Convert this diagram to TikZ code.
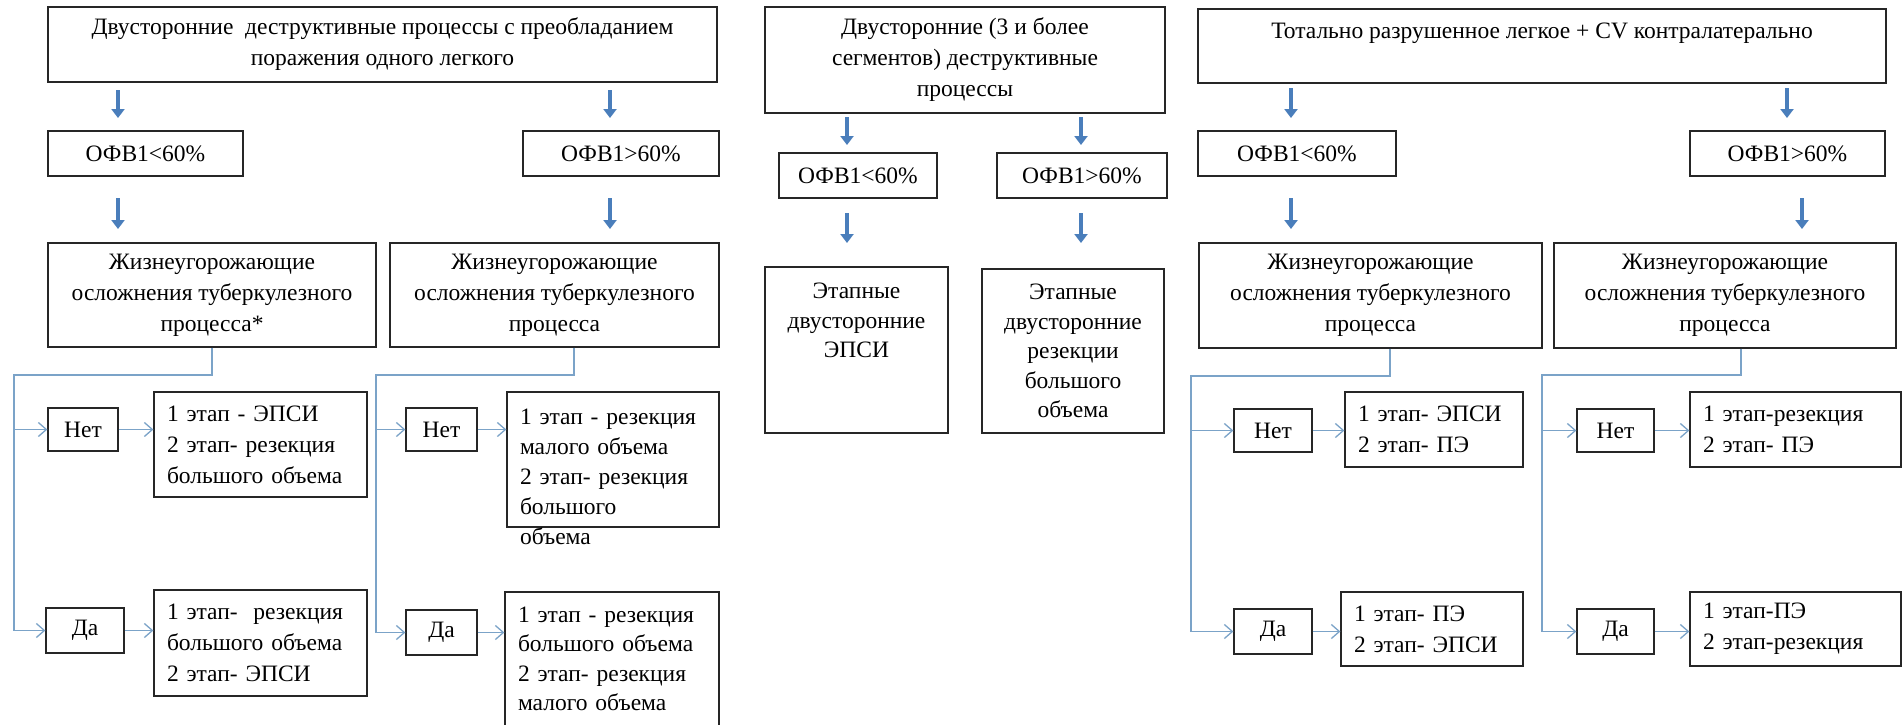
\documentclass[tikz,border=0pt]{standalone}
\usepackage{fontspec}
\setmainfont{Liberation Serif}
\newfontfamily\tnr{Liberation Serif}
\usetikzlibrary{arrows.meta,calc}
\definecolor{barblue}{HTML}{4A7EBB}
\definecolor{linkblue}{HTML}{7BA3C8}
\tikzset{
 box/.style={draw=black!85, line width=1.3pt, fill=white, inner sep=0pt, align=center, font=\tnr\fontsize{23.5}{31}\selectfont},
 lbox/.style={box, align=left},
 barrow/.style={draw=barblue, line width=4.5pt, -{Triangle[width=13pt,length=9pt]}},
 conn/.style={draw=linkblue, line width=1.3pt, -{Straight Barb[length=8pt,width=14pt]}},
}
\newcommand\mybox[7][]{\node[box,minimum width={(#5-#3)*1pt},minimum height={(#6-#4)*1pt},#1] (#2) at ({(#3+#5)/2},{(#4+#6)/2}) {#7};}
\newcommand\mylbox[7][]{\node[lbox,minimum width={(#5-#3)*1pt},minimum height={(#6-#4)*1pt},inner xsep=13pt,text width={(#5-#3)*1pt-26pt},#1] (#2) at ({(#3+#5)/2},{(#4+#6)/2}) {#7};}
\begin{document}
\begin{tikzpicture}[x=1pt,y=-1pt]
\useasboundingbox (0,0) rectangle (1903,724);
\fill[white] (0,0) rectangle (1903,724);
% ---------- left panel ----------
\mybox{B1}{48}{7}{717}{82}{Двусторонние\ \ деструктивные процессы с преобладанием\\поражения одного легкого}
\mybox{L60}{48}{131}{243}{176}{ОФВ1<60\%}
\mybox{L60b}{523}{131}{719}{176}{ОФВ1>60\%}
\mybox{J1}{48}{243}{376}{347}{Жизнеугорожающие\\осложнения туберкулезного\\процесса*}
\mybox{J2}{390}{243}{719}{347}{Жизнеугорожающие\\осложнения туберкулезного\\процесса}
\mybox{N1}{48}{408}{118}{451}{Нет}
\mylbox{R1N}{154}{392}{367}{497}{1 этап - ЭПСИ\\2 этап- резекция\\большого объема}
\mybox{D1}{46}{608}{124}{653}{Да}
\mylbox{R1D}{154}{590}{367}{696}{1 этап-\ \ резекция\\большого объема\\2 этап- ЭПСИ}
\mybox{N2}{406}{408}{477}{451}{Нет}
\mylbox[text height=17pt,text depth=88pt,inner ysep=15pt,font=\tnr\fontsize{23.5}{30}\selectfont]{R2N}{507}{392}{719}{527}{1 этап - резекция\\малого объема\\2 этап- резекция\\большого\\объема}
\mybox{D2}{406}{610}{477}{655}{Да}
\mylbox[font=\tnr\fontsize{23.5}{29.5}\selectfont]{R2D}{505}{592}{719}{726}{1 этап - резекция\\большого объема\\2 этап- резекция\\малого объема}
\draw[barrow] (118,90) -- (118,118);
\draw[barrow] (610,90) -- (610,118);
\draw[barrow] (118,198) -- (118,229);
\draw[barrow] (610,198) -- (610,229);
\coordinate (LB1) at (14,375);
\draw[conn] (J1.south) |- (LB1) |- (D1.west);
\draw[conn] (LB1 |- N1.west) -- (N1.west);
\draw[conn] (N1.east) -- (N1.east -| R1N.west);
\draw[conn] (D1.east) -- (D1.east -| R1D.west);
\coordinate (LB2) at (376,375);
\draw[conn] ([xshift=19.5pt]J2.south) |- (LB2) |- (D2.west);
\draw[conn] (LB2 |- N2.west) -- (N2.west);
\draw[conn] (N2.east) -- (N2.east -| R2N.west);
\draw[conn] (D2.east) -- (D2.east -| R2D.west);
% ---------- middle panel ----------
\mybox{M1}{765}{7}{1165}{113}{Двусторонние (3 и более\\сегментов) деструктивные\\процессы}
\mybox{ML}{779}{153}{937}{198}{ОФВ1<60\%}
\mybox{MG}{997}{153}{1167}{198}{ОФВ1>60\%}
\mybox[font=\tnr\fontsize{23.5}{29.5}\selectfont]{ME}{765}{267}{948}{433}{Этапные\\двусторонние\\ЭПСИ\\\mbox{}\\\mbox{}}
\mybox[font=\tnr\fontsize{23.5}{29.5}\selectfont]{MR}{982}{269}{1164}{433}{Этапные\\двусторонние\\резекции\\большого\\объема}
\draw[barrow] (847,117) -- (847,145);
\draw[barrow] (1081,117) -- (1081,145);
\draw[barrow] (847,213) -- (847,243);
\draw[barrow] (1081,213) -- (1081,243);
% ---------- right panel ----------
\mybox{T1}{1198}{9}{1886}{83}{Тотально разрушенное легкое + CV контралатерально\\\mbox{}}
\mybox{RL}{1198}{131}{1396}{176}{ОФВ1<60\%}
\mybox{RG}{1690}{131}{1885}{176}{ОФВ1>60\%}
\mybox{RJ1}{1199}{243}{1542}{348}{Жизнеугорожающие\\осложнения туберкулезного\\процесса}
\mybox{RJ2}{1554}{243}{1896}{348}{Жизнеугорожающие\\осложнения туберкулезного\\процесса}
\mybox{RN1}{1234}{409}{1312}{452}{Нет}
\mylbox{RR1N}{1345}{392}{1523}{467}{1 этап- ЭПСИ\\2 этап- ПЭ}
\mybox{RD1}{1234}{609}{1312}{654}{Да}
\mylbox{RR1D}{1341}{592}{1523}{666}{1 этап- ПЭ\\2 этап- ЭПСИ}
\mybox{RN2}{1577}{409}{1654}{452}{Нет}
\mylbox{RR2N}{1690}{392}{1901}{467}{1 этап-резекция\\2 этап- ПЭ}
\mybox{RD2}{1577}{609}{1654}{654}{Да}
\mylbox{RR2D}{1690}{592}{1901}{666}{1 этап-ПЭ\\2 этап-резекция}
\draw[barrow] (1291,88) -- (1291,118);
\draw[barrow] (1787,88) -- (1787,118);
\draw[barrow] (1291,198) -- (1291,229);
\draw[barrow] (1802,198) -- (1802,229);
\coordinate (RB1) at (1191,376);
\draw[conn] ([xshift=19.5pt]RJ1.south) |- (RB1) |- (RD1.west);
\draw[conn] (RB1 |- RN1.west) -- (RN1.west);
\draw[conn] (RN1.east) -- (RN1.east -| RR1N.west);
\draw[conn] (RD1.east) -- (RD1.east -| RR1D.west);
\coordinate (RB2) at (1542,375);
\draw[conn] ([xshift=16pt]RJ2.south) |- (RB2) |- (RD2.west);
\draw[conn] (RB2 |- RN2.west) -- (RN2.west);
\draw[conn] (RN2.east) -- (RN2.east -| RR2N.west);
\draw[conn] (RD2.east) -- (RD2.east -| RR2D.west);
\end{tikzpicture}
\end{document}
